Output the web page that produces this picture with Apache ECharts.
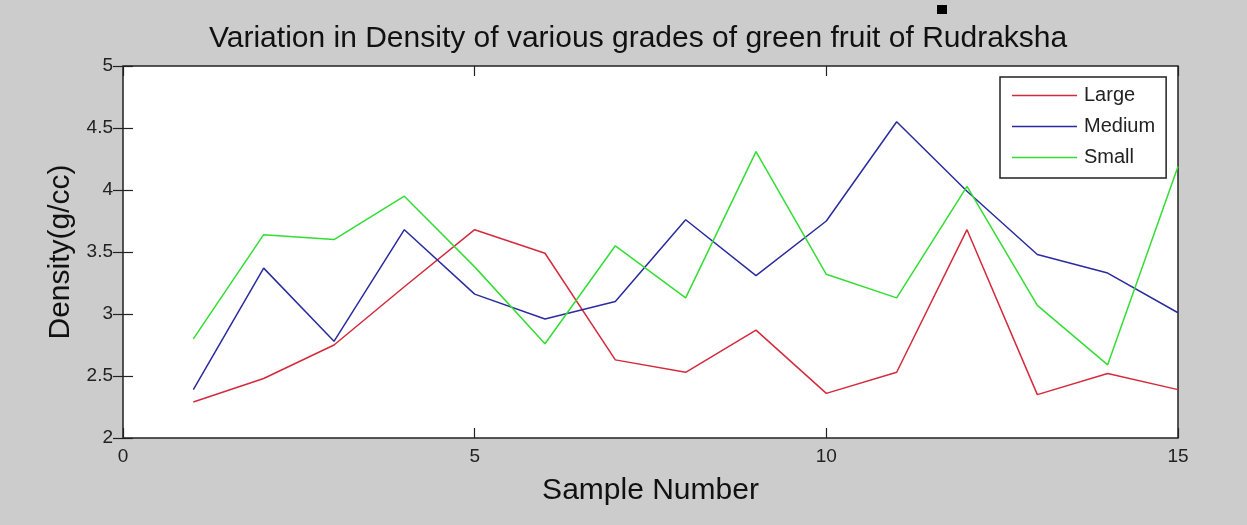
<!DOCTYPE html>
<html>
<head>
<meta charset="utf-8">
<script src="https://cdn.jsdelivr.net/npm/echarts@6/dist/echarts.min.js"></script>
<style>
html,body{margin:0;padding:0;background:#cccccc;}
#chart{width:1247px;height:525px;}
</style>
</head>
<body>
<div id="chart"></div>
<script>
const sampleNumbers = [1,2,3,4,5,6,7,8,9,10,11,12,13,14,15];
const largeValues  = [2.29,2.48,2.75,3.22,3.68,3.49,2.63,2.53,2.87,2.36,2.53,3.68,2.35,2.52,2.39];
const mediumValues = [2.39,3.37,2.78,3.68,3.16,2.96,3.10,3.76,3.31,3.75,4.55,3.99,3.48,3.33,3.01];
const smallValues  = [2.80,3.64,3.60,3.95,3.38,2.76,3.55,3.13,4.31,3.32,3.13,4.03,3.07,2.59,4.19];
const seriesNames = ['Large','Medium','Small'];
const xTicks = {min:0, max:15, interval:5};
const yTicks = {min:2, max:5, interval:0.5};

const FONT = '"Liberation Sans", Arial, sans-serif';
const pair = (vals) => sampleNumbers.map((x,i)=>[x, vals[i]]);
const colors = ['#d42a3c','#2b2ba0','#33dd33'];

const chart = echarts.init(document.getElementById('chart'), null, {renderer:'canvas'});
const tickStyle = {show:true, inside:true, length:10, lineStyle:{color:'#222', width:1.2}};
const baseX = {type:'value', min:xTicks.min, max:xTicks.max, interval:xTicks.interval,
  axisLine:{show:false}, splitLine:{show:false}, axisTick:tickStyle};
const baseY = {type:'value', min:yTicks.min, max:yTicks.max, interval:yTicks.interval,
  axisLine:{show:false}, splitLine:{show:false}, axisTick:tickStyle};

chart.setOption({
  backgroundColor:'#cccccc',
  animation:false,
  textStyle:{fontFamily:FONT},
  title:{
    text:'Variation in Density of various grades of green fruit of Rudraksha',
    left:204, top:19,
    textStyle:{fontFamily:FONT, fontSize:30, fontWeight:'normal', color:'#111'}
  },
  grid:{left:123, right:69, top:66, bottom:87, show:true, backgroundColor:'#ffffff',
        borderColor:'#222', borderWidth:1.5, containLabel:false},
  xAxis:[
    Object.assign({}, baseX, {position:'bottom',
      name:'Sample Number', nameLocation:'middle', nameGap:38,
      nameTextStyle:{fontFamily:FONT, fontSize:30, color:'#111'},
      axisLabel:{show:true, margin:9, fontFamily:FONT, fontSize:19, color:'#222'}}),
    Object.assign({}, baseX, {position:'top', axisLabel:{show:false}})
  ],
  yAxis:[
    Object.assign({}, baseY, {position:'left',
      name:'Density(g/cc)', nameLocation:'middle', nameGap:47,
      nameTextStyle:{fontFamily:FONT, fontSize:30, color:'#111'},
      axisLabel:{show:true, margin:10, fontFamily:FONT, fontSize:19, color:'#222'}}),
    Object.assign({}, baseY, {position:'right', axisLabel:{show:false}})
  ],
  legend:{
    orient:'vertical', left:1000, top:77,
    data:seriesNames,
    icon:'rect',
    backgroundColor:'#ffffff', borderColor:'#222', borderWidth:1.5,
    padding:[8,11,10,12], itemWidth:65, itemHeight:1.5, itemGap:10,
    textStyle:{fontFamily:FONT, fontSize:20, lineHeight:21, color:'#222', padding:[0,0,0,2]}
  },
  series:[
    {name:seriesNames[0], type:'line', data:pair(largeValues), symbol:'none',
     lineStyle:{color:colors[0], width:1.5}, itemStyle:{color:colors[0]}},
    {name:seriesNames[1], type:'line', data:pair(mediumValues), symbol:'none',
     lineStyle:{color:colors[1], width:1.5}, itemStyle:{color:colors[1]}},
    {name:seriesNames[2], type:'line', data:pair(smallValues), symbol:'none',
     lineStyle:{color:colors[2], width:1.5}, itemStyle:{color:colors[2]}}
  ],
  graphic:[
    {type:'rect', shape:{x:937, y:5, width:10, height:9}, style:{fill:'#000'}, silent:true}
  ]
});
</script>
</body>
</html>
